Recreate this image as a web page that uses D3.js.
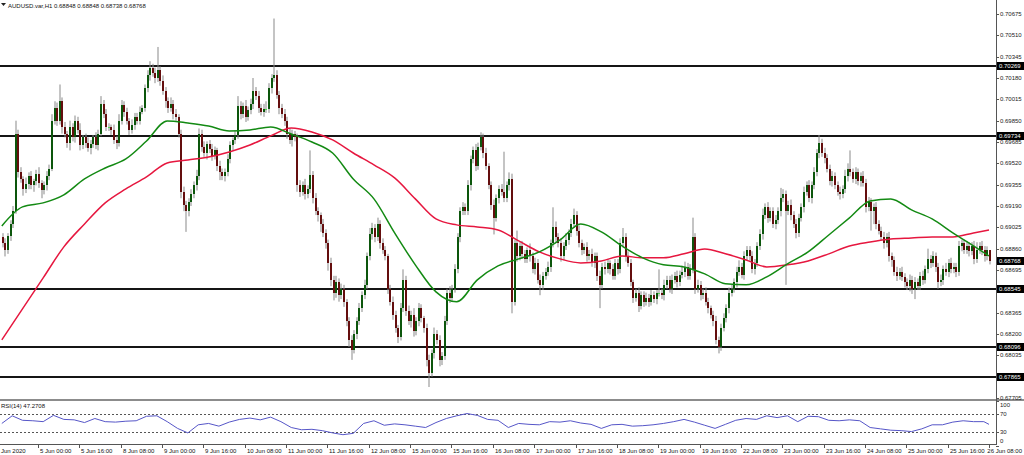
<!DOCTYPE html>
<html><head><meta charset="utf-8">
<script src="https://cdn.jsdelivr.net/npm/d3@7"></script>
<style>
html,body{margin:0;padding:0;background:#fff;}
svg{display:block;font-family:"Liberation Sans",Arial,sans-serif;}
</style>
</head><body>
<svg id="chart" width="1024" height="455"></svg>
<script>
// ---------- DATA ----------
const symbolTitle = "AUDUSD.var,H1";
const lastOHLC = ["0.68848", "0.68848", "0.68738", "0.68768"];
const rsiTitle = "RSI(14) 47.2708";
const firstOpen = 0.6895;
const pip = 0.0001;

// hourly closes, 4 Jun 10:00 .. 26 Jun 08:00
const closes = [
0.6890,0.6885,0.6896,0.6905,0.6915,0.6975,0.6945,0.6940,0.6932,0.6936,
0.6942,0.6935,0.6938,0.6944,0.6937,0.6931,0.6935,0.6942,0.6948,0.6985,
0.6995,0.6985,0.7000,0.6980,0.6975,0.6968,0.6980,0.6972,0.6985,0.6978,
0.6966,0.6972,0.6968,0.6964,0.6967,0.6972,0.6966,0.6975,0.6998,0.6990,
0.6980,0.6980,0.6978,0.6970,0.6968,0.6985,0.6997,0.6992,0.6985,0.6978,
0.6982,0.6988,0.6985,0.6992,0.6995,0.7010,0.7020,0.7026,0.7022,0.7018,
0.7024,0.7016,0.7008,0.7000,0.6995,0.6998,0.6990,0.6988,0.6975,0.6930,
0.6920,0.6915,0.6922,0.6928,0.6935,0.6942,0.6975,0.6965,0.6960,0.6967,
0.6963,0.6958,0.6962,0.6950,0.6945,0.6942,0.6945,0.6955,0.6966,0.6970,
0.6974,0.6996,0.6990,0.6996,0.6988,0.6993,0.6998,0.7008,0.7004,0.6995,
0.6992,0.6994,0.6994,0.7010,0.7018,0.7020,0.7005,0.6995,0.6990,0.6985,
0.6975,0.6970,0.6975,0.6972,0.6935,0.6930,0.6935,0.6928,0.6932,0.6943,
0.6925,0.6915,0.6912,0.6905,0.6898,0.6890,0.6875,0.6862,0.6852,0.6860,
0.6850,0.6855,0.6845,0.6830,0.6815,0.6808,0.6820,0.6830,0.6840,0.6850,
0.6858,0.6880,0.6897,0.6902,0.6895,0.6905,0.6890,0.6885,0.6880,0.6855,
0.6845,0.6835,0.6825,0.6818,0.6840,0.6862,0.6838,0.6830,0.6835,0.6822,
0.6830,0.6840,0.6832,0.6825,0.6800,0.6790,0.6805,0.6820,0.6815,0.6800,
0.6803,0.6830,0.6852,0.6848,0.6855,0.6870,0.6895,0.6915,0.6918,0.6915,
0.6935,0.6955,0.6962,0.6950,0.6965,0.6972,0.6960,0.6950,0.6935,0.6920,
0.6910,0.6925,0.6932,0.6930,0.6925,0.6935,0.6940,0.6845,0.6890,0.6880,
0.6888,0.6882,0.6878,0.6885,0.6880,0.6870,0.6875,0.6862,0.6858,0.6865,
0.6868,0.6872,0.6890,0.6903,0.6895,0.6890,0.6880,0.6888,0.6893,0.6898,
0.6905,0.6912,0.6900,0.6890,0.6885,0.6887,0.6880,0.6882,0.6875,0.6880,
0.6865,0.6858,0.6872,0.6870,0.6875,0.6870,0.6865,0.6875,0.6870,0.6890,
0.6895,0.6880,0.6875,0.6860,0.6848,0.6852,0.6842,0.6850,0.6845,0.6848,
0.6845,0.6850,0.6847,0.6852,0.6852,0.6850,0.6858,0.6862,0.6855,0.6862,
0.6865,0.6860,0.6866,0.6868,0.6872,0.6865,0.6870,0.6895,0.6855,0.6858,
0.6850,0.6852,0.6845,0.6840,0.6835,0.6830,0.6815,0.6810,0.6825,0.6832,
0.6840,0.6852,0.6855,0.6860,0.6868,0.6872,0.6866,0.6880,0.6885,0.6880,
0.6870,0.6875,0.6888,0.6897,0.6912,0.6918,0.6910,0.6915,0.6905,0.6908,
0.6915,0.6925,0.6928,0.6915,0.6920,0.6912,0.6905,0.6898,0.6910,0.6918,
0.6930,0.6935,0.6925,0.6935,0.6945,0.6960,0.6968,0.6960,0.6956,0.6948,
0.6938,0.6942,0.6935,0.6930,0.6928,0.6932,0.6942,0.6948,0.6945,0.6940,
0.6945,0.6938,0.6942,0.6937,0.6918,0.6922,0.6915,0.6918,0.6905,0.6900,
0.6895,0.6890,0.6895,0.6880,0.6877,0.6868,0.6865,0.6868,0.6864,0.6860,
0.6857,0.6862,0.6855,0.6860,0.6857,0.6865,0.6862,0.6870,0.6878,0.6875,
0.6880,0.6872,0.6860,0.6862,0.6870,0.6868,0.6875,0.6870,0.6872,0.6868,
0.6888,0.6890,0.6885,0.6888,0.6884,0.6888,0.6878,0.6885,0.6888,0.6885,
0.6880,0.68848,0.68768
];

// wick lengths beyond the body, in pips
const upperWick = [
3,4,2,3,4,10,3,4,2,5, 3,4,2,3,5,2,3,4,3,5, 5,4,13,3,4,2,5,3,4,3, 5,2,3,4,3,2,4,3,6,3,
4,3,2,4,3,5,4,3,3,2, 4,3,3,4,2,3,4,5,3,4, 18,3,4,3,3,5,3,4,2,3, 4,3,3,4,3,5,4,3,4,2,
3,4,3,2,4,3,3,4,3,2, 3,8,4,3,5,3,4,10,3,4, 3,4,6,4,3,44,4,3,3,4, 3,4,3,2,3,4,3,5,3,19,
3,4,3,2,4,3,3,4,3,5, 3,4,3,2,3,4,3,3,4,3, 4,3,5,4,3,5,3,4,3,2, 3,4,3,2,4,8,3,4,3,5,
3,4,3,2,3,4,3,5,3,4, 3,4,3,5,3,4,3,3,4,3, 4,3,3,5,3,4,3,4,2,3, 4,3,3,4,31,3,5,4,3,10,
3,4,3,2,5,3,4,3,4,3, 3,4,3,15,4,3,4,3,5,3, 4,5,3,4,3,3,4,3,4,3, 3,4,3,4,3,2,4,3,3,4,
7,3,4,3,2,3,4,3,3,4, 3,4,3,2,18,3,4,3,3,4, 3,4,3,5,4,3,4,15,3,4, 3,3,4,3,2,3,4,3,3,4,
3,4,3,3,4,5,3,4,3,3, 4,3,3,4,5,3,4,3,3,4, 3,8,4,3,3,4,3,4,3,3, 4,3,4,3,4,3,6,3,4,3,
3,4,3,3,4,3,5,4,14,3, 4,3,3,4,3,4,3,3,4,3, 3,4,3,4,3,3,4,3,4,3, 3,4,3,4,3,3,4,3,8,3,
4,3,3,4,3,5,3,4,3,3, 4,3,3,4,3,3,4,6,3,4, 3,3,0
];
const lowerWick = [
3,5,3,4,3,2,4,3,5,3, 4,3,5,3,4,6,3,4,3,2, 3,4,3,5,3,4,6,3,4,3, 4,3,4,3,5,3,3,4,2,3,
3,3,4,3,5,3,3,4,3,4, 3,4,3,3,2,3,3,4,3,4, 3,4,3,5,4,3,4,3,3,5, 5,16,4,3,3,4,3,4,3,5,
3,4,3,4,6,3,4,3,3,4, 3,3,4,3,4,3,3,4,3,4, 3,4,3,3,4,3,3,5,3,4, 4,3,5,3,5,4,3,4,3,3,
4,3,5,6,3,4,6,5,6,4, 5,3,4,4,5,8,3,4,3,3, 3,3,3,4,4,3,4,3,3,4, 3,4,4,5,3,3,4,3,5,4,
3,4,3,4,5,11,3,4,3,5, 4,3,3,4,3,3,3,4,3,3, 3,4,3,4,3,3,4,3,3,4, 13,3,4,3,3,3,4,9,3,4,
3,4,3,3,4,3,4,3,8,4, 3,3,4,3,4,3,4,3,3,4, 3,3,4,3,4,3,4,3,3,4, 4,18,3,4,3,4,3,3,4,3,
3,4,3,3,4,3,5,3,4,3, 4,3,3,4,3,3,4,3,3,4, 3,4,3,3,4,3,3,3,4,3, 4,3,3,4,3,4,3,5,3,3,
3,4,3,3,4,3,3,4,3,4, 3,4,3,3,4,3,4,3,3,4, 3,4,3,57,3,4,3,4,3,3, 4,3,3,4,3,3,4,3,4,3,
3,4,3,3,4,3,3,4,3,3, 4,3,4,3,4,3,15,10,4,3, 3,4,3,4,5,3,4,3,3,4, 3,4,4,8,3,3,4,3,3,4,
3,4,5,3,4,3,4,3,3,4, 3,4,3,3,4,3,4,3,3,4, 4,3,3
];

// moving averages, one value every 8 bars (last value at the final bar)
const maGreen = [
0.69036,0.69183,0.69214,0.69276,0.69399,0.69484,0.69554,0.69693,0.69848,0.69832,
0.69809,0.69770,0.69778,0.69801,0.69747,0.69685,0.69600,0.69399,0.69245,0.68982,
0.68735,0.68526,0.68449,0.68619,0.68727,0.68781,0.68835,0.68928,0.69051,0.68990,
0.68881,0.68789,0.68735,0.68719,0.68665,0.68588,0.68580,0.68642,0.68742,0.68835,
0.68966,0.69098,0.69229,0.69245,0.69160,0.69090,0.68982,0.68881,0.68804
];
const maRed = [
0.68155,0.68394,0.68634,0.68874,0.69051,0.69214,0.69322,0.69415,0.69523,0.69546,
0.69569,0.69608,0.69662,0.69732,0.69794,0.69763,0.69701,0.69600,0.69508,0.69407,
0.69245,0.69090,0.69044,0.69028,0.69005,0.68920,0.68835,0.68781,0.68750,0.68765,
0.68804,0.68789,0.68789,0.68820,0.68858,0.68820,0.68773,0.68719,0.68735,0.68765,
0.68820,0.68881,0.68912,0.68935,0.68943,0.68951,0.68951,0.68982,0.69005
];
const maStep = 8;

// RSI(14), one value every 4 bars (last value at the final bar)
const rsiValues = [
49,66,56,55,53,67,58,57,51,60, 53,52,54,55,65,66,53,38,28,46,
49,43,52,58,61,57,63,53,40,35, 36,33,28,24,27,49,55,45,48,46,
43,40,51,60,66,71,67,58,56,40, 49,47,46,53,52,55,50,47,38,46,
47,43,44,46,49,53,58,52,45,38, 47,56,60,58,66,62,66,53,65,64,
56,55,57,55,40,37,34,33,31,37, 46,46,52,55,53,53,47
];
const rsiStep = 4;

const levels = [0.70269, 0.69734, 0.68545, 0.68096, 0.67865];
const currentPrice = 0.68768;
const priceTicks = [0.70675,0.70510,0.70345,0.70180,0.70015,0.69850,0.69685,0.69520,0.69355,0.69190,
  0.69025,0.68860,0.68695,0.68530,0.68365,0.68200,0.68035,0.67870,0.67705];
const rsiTicks = [100, 70, 30, 0];
const rsiLevels = [70, 30];
const firstDateLabel = "Jun 2020";
const timeLabels = ["5 Jun 00:00","5 Jun 16:00","8 Jun 08:00","9 Jun 00:00","9 Jun 16:00","10 Jun 08:00",
  "11 Jun 00:00","11 Jun 16:00","12 Jun 08:00","15 Jun 00:00","15 Jun 16:00","16 Jun 08:00",
  "17 Jun 00:00","17 Jun 16:00","18 Jun 08:00","19 Jun 00:00","19 Jun 16:00","22 Jun 08:00",
  "23 Jun 00:00","23 Jun 16:00","24 Jun 08:00","25 Jun 00:00","25 Jun 16:00","26 Jun 08:00"];
const timeLabelStart = 14, timeLabelStep = 16;

// ---------- DRAW ----------
const W = 1024, H = 455, axisX = 996;
const svg = d3.select("#chart");
const FS = 6;

const x = d3.scaleLinear().domain([14, 382]).range([38, 989]);
const y = d3.scaleLinear().domain([0.67705, 0.70675]).range([398, 14]);
const yr = d3.scaleLinear().domain([0, 100]).range([445.5, 400.5]);

svg.append("defs").append("clipPath").attr("id","mainClip")
  .append("rect").attr("x",0).attr("y",0).attr("width",axisX).attr("height",399);
svg.append("defs").append("clipPath").attr("id","rsiClip")
  .append("rect").attr("x",0).attr("y",402).attr("width",axisX).attr("height",42);

const main = svg.append("g").attr("clip-path","url(#mainClip)");

// horizontal levels
main.selectAll(".lvl").data(levels).enter().append("line")
  .attr("x1",0).attr("x2",axisX)
  .attr("y1",d=>Math.round(y(d))).attr("y2",d=>Math.round(y(d)))
  .attr("stroke","#151515").attr("stroke-width",2);

// candles
const bars = closes.map((c,i)=>{
  const o = i ? closes[i-1] : firstOpen;
  return {i, o, c, hi: Math.max(o,c)+upperWick[i]*pip, lo: Math.min(o,c)-lowerWick[i]*pip};
});
const cg = main.append("g");
cg.selectAll(".wick").data(bars).enter().append("rect")
  .attr("x",d=>Math.round(x(d.i))+0.5).attr("width",1)
  .attr("y",d=>y(d.hi)).attr("height",d=>Math.max(1,y(d.lo)-y(d.hi)))
  .attr("fill","#8a8a8a");
cg.selectAll(".body").data(bars).enter().append("rect")
  .attr("x",d=>Math.round(x(d.i))).attr("width",2)
  .attr("y",d=>Math.round(y(Math.max(d.o,d.c))))
  .attr("height",d=>Math.max(1,Math.round(y(Math.min(d.o,d.c)))-Math.round(y(Math.max(d.o,d.c)))))
  .attr("fill",d=>d.c>d.o?"#0c560c":(d.c<d.o?"#640e0e":"#4fdc4f"));

// moving averages
function maIndex(k,len,step){ return k===len-1 ? closes.length-1 : k*step; }
const lineGen = d3.line().curve(d3.curveMonotoneX);
function drawMA(vals,color){
  main.append("path")
    .attr("d", lineGen(vals.map((v,k)=>[x(maIndex(k,vals.length,maStep)), y(v)])))
    .attr("fill","none").attr("stroke",color).attr("stroke-width",1.5);
}
drawMA(maRed,"#e6173f");
drawMA(maGreen,"#138a13");

// header
svg.append("path").attr("d","M1,3 L6,3 L3.5,6 Z").attr("fill","#222");
svg.append("text").attr("x",8).attr("y",7.5).attr("font-size",FS).attr("fill","#111")
  .text(symbolTitle + "  " + lastOHLC.join(" "));

// panel separator & borders
svg.append("rect").attr("x",0).attr("y",399).attr("width",W).attr("height",2).attr("fill","#8c8c8c");
svg.append("line").attr("x1",0).attr("x2",axisX+1).attr("y1",444.5).attr("y2",444.5).attr("stroke","#555").attr("stroke-width",1);
svg.append("line").attr("x1",axisX+0.5).attr("x2",axisX+0.5).attr("y1",0).attr("y2",445).attr("stroke","#555").attr("stroke-width",1);

// RSI panel
const rg = svg.append("g").attr("clip-path","url(#rsiClip)");
rg.selectAll(".rl").data(rsiLevels).enter().append("line")
  .attr("x1",0).attr("x2",axisX)
  .attr("y1",d=>Math.round(yr(d))+0.5).attr("y2",d=>Math.round(yr(d))+0.5)
  .attr("stroke","#555").attr("stroke-dasharray","2,2").attr("stroke-width",1);
rg.append("path")
  .attr("d", d3.line()(rsiValues.map((v,k)=>[x(maIndex(k,rsiValues.length,rsiStep)), yr(v)])))
  .attr("fill","none").attr("stroke","#5656c8").attr("stroke-width",1);
svg.append("text").attr("x",1).attr("y",408).attr("font-size",FS).attr("fill","#111").text(rsiTitle);

// price axis
const pa = svg.append("g");
priceTicks.forEach(p=>{
  const yy = Math.round(y(p));
  pa.append("line").attr("x1",axisX).attr("x2",axisX+3).attr("y1",yy+0.5).attr("y2",yy+0.5).attr("stroke","#555");
  pa.append("text").attr("x",1000).attr("y",yy+2).attr("font-size",FS).attr("fill","#222")
    .text(p.toFixed(5));
});
// level / current price tags
[...levels, currentPrice].forEach(p=>{
  const yy = Math.round(y(p));
  pa.append("rect").attr("x",997).attr("y",yy-4).attr("width",27).attr("height",8).attr("fill","#000");
  pa.append("text").attr("x",999).attr("y",yy+2.2).attr("font-size",FS).attr("fill","#fff").text(p.toFixed(5));
});

// RSI axis
rsiTicks.forEach(v=>{
  const yy = Math.min(441, Math.max(405, yr(v)));
  svg.append("line").attr("x1",axisX).attr("x2",axisX+3).attr("y1",Math.round(yr(v))+0.5).attr("y2",Math.round(yr(v))+0.5).attr("stroke","#555");
  svg.append("text").attr("x",1000).attr("y",yy+2).attr("font-size",FS).attr("fill","#222").text(v);
});

// time axis
svg.append("text").attr("x",1).attr("y",453).attr("font-size",FS).attr("fill","#111").text(firstDateLabel);
timeLabels.forEach((t,k)=>{
  const xx = Math.round(x(timeLabelStart + k*timeLabelStep));
  const last = k === timeLabels.length-1;
  svg.append("line").attr("x1",xx+0.5).attr("x2",xx+0.5).attr("y1",445).attr("y2",448).attr("stroke","#555");
  svg.append("text").attr("x",last ? 1022 : xx+2).attr("y",453).attr("font-size",FS)
    .attr("text-anchor", last ? "end" : "start").attr("fill","#111").text(t);
});
</script>
</body></html>
